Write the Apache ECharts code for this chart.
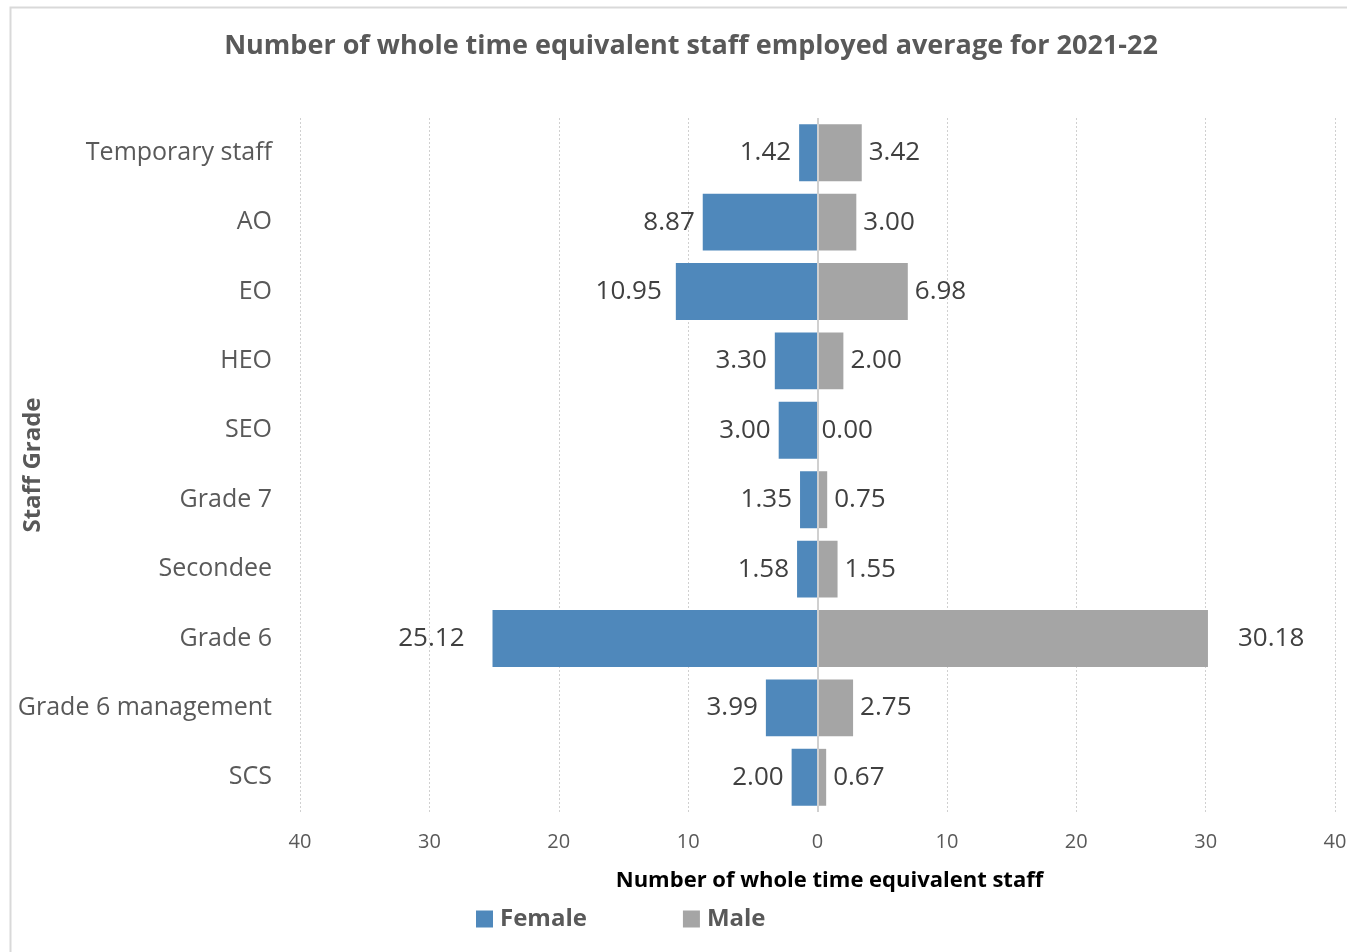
<!DOCTYPE html>
<html>
<head>
<meta charset="utf-8">
<script src="https://cdn.jsdelivr.net/npm/echarts@6/dist/echarts.min.js"></script>
<style>html,body{margin:0;padding:0;background:#fff;}#c{width:1347px;height:952px;}</style>
</head>
<body>
<div id="c"></div>
<script>
const categories = ["Temporary staff","AO","EO","HEO","SEO","Grade 7","Secondee","Grade 6","Grade 6 management","SCS"];
const female = [1.42, 8.87, 10.95, 3.30, 3.00, 1.35, 1.58, 25.12, 3.99, 2.00];
const male = [3.42, 3.00, 6.98, 2.00, 0.00, 0.75, 1.55, 30.18, 2.75, 0.67];
const xTicks = [-40, -30, -20, -10, 0, 10, 20, 30, 40];

const FONT = '"Open Sans", sans-serif';
const chart = echarts.init(document.getElementById('c'), null, {renderer: 'canvas'});
chart.setOption({
  backgroundColor: '#fff',
  animation: false,
  textStyle: {fontFamily: FONT},
  graphic: [{
    type: 'rect', left: 8, top: 5, shape: {width: 1400, height: 1000},
    style: {fill: 'none', stroke: '#d9d9d9', lineWidth: 2}, silent: true, z: -1
  }],
  title: {
    text: 'Number of whole time equivalent staff employed average for 2021-22',
    left: 686, top: 28, textAlign: 'center',
    textStyle: {fontFamily: FONT, fontSize: 27, fontWeight: 'bold', color: '#595959'}
  },
  legend: {
    left: 476, top: 907, padding: 0, itemWidth: 17, itemHeight: 17, itemGap: 96,
    icon: 'rect',
    textStyle: {fontFamily: FONT, fontSize: 24, fontWeight: 'bold', color: '#595959', padding: [0,0,0,2]},
    data: ['Female', 'Male']
  },
  grid: {left: 300, right: 12, top: 118, bottom: 140, containLabel: false, outerBoundsMode: 'none'},
  xAxis: {
    type: 'value', min: xTicks[0], max: xTicks[xTicks.length-1], interval: 10,
    name: 'Number of whole time equivalent staff', nameLocation: 'middle', nameGap: 58,
    nameMoveOverlap: false,
    nameTextStyle: {fontFamily: FONT, fontSize: 22, fontWeight: 'bold', color: '#000', padding: [0, 0, 0, 24]},
    axisLine: {show: false}, axisTick: {show: false},
    axisLabel: {fontFamily: FONT, fontSize: 20, color: '#595959', margin: 20,
      formatter: v => String(Math.abs(v))},
    splitLine: {show: true, lineStyle: {type: [2, 2], color: '#d0d0d0', width: 1}}
  },
  yAxis: {
    type: 'category', data: categories, inverse: true,
    name: 'Staff Grade', nameLocation: 'middle', nameGap: 255, nameRotate: 90,
    nameMoveOverlap: false,
    nameTextStyle: {fontFamily: FONT, fontSize: 24, fontWeight: 'bold', color: '#595959'},
    axisLine: {show: false}, axisTick: {show: false},
    axisLabel: {fontFamily: FONT, fontSize: 25, color: '#595959', margin: 28}
  },
  series: [
    {
      name: 'Female', type: 'bar', barGap: '-100%', barCategoryGap: '18%',
      itemStyle: {color: '#4f88bb'},
      data: female.map((v, i) => ({value: -v, label: {distance: i === 7 ? 28 : (i === 2 ? 14 : 8)}})),
      label: {show: true, position: 'left', fontFamily: FONT, fontSize: 26, color: '#404040',
        formatter: p => Math.abs(p.value).toFixed(2)},
      markLine: {
        silent: true, symbol: 'none', label: {show: false},
        lineStyle: {color: '#d0d0d0', width: 2, type: 'solid'},
        data: [{xAxis: 0}]
      }
    },
    {
      name: 'Male', type: 'bar', barGap: '-100%', barCategoryGap: '18%',
      itemStyle: {color: '#a5a5a5'},
      data: male.map((v, i) => ({value: v, label: {distance: i === 7 ? 30 : (v === 0 ? 4 : 7)}})),
      label: {show: true, position: 'right', fontFamily: FONT, fontSize: 26, color: '#404040',
        formatter: p => Number(p.value).toFixed(2)}
    }
  ]
});
</script>
</body>
</html>
